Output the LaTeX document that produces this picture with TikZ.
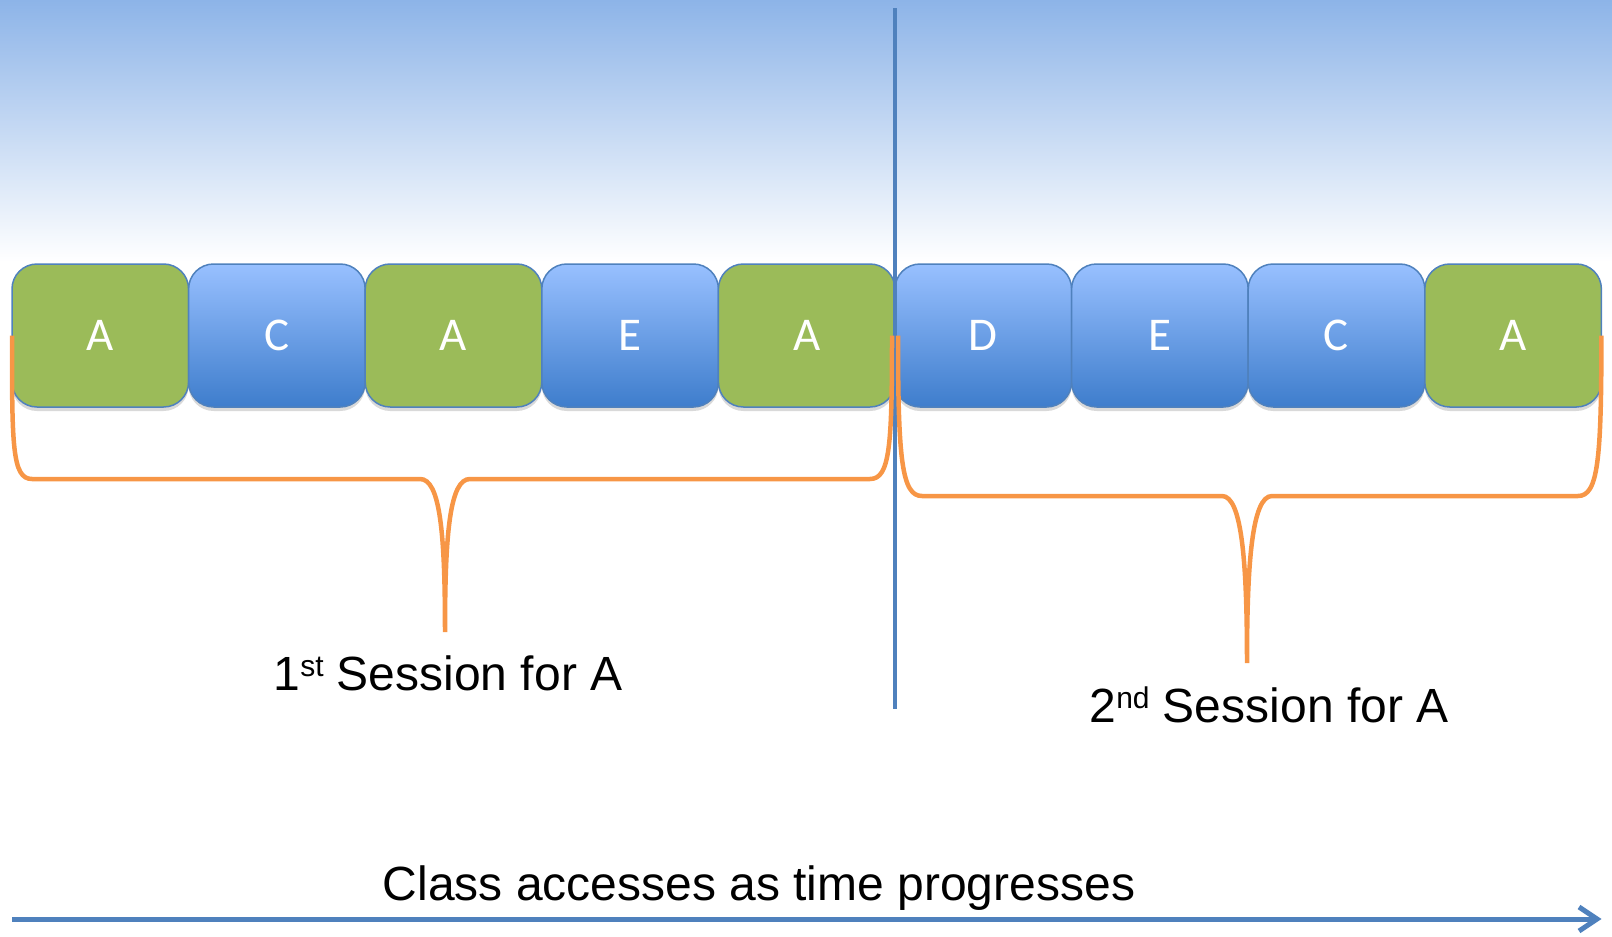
\documentclass[tikz,border=0pt]{standalone}
\usepackage{fontspec}
\setmainfont{Liberation Sans}
\newfontfamily\boxfont{Carlito}
\usetikzlibrary{positioning,shadows}

\definecolor{bgtop}{RGB}{141,180,232}
\definecolor{linblue}{RGB}{79,129,189}
\definecolor{accgreen}{RGB}{155,187,89}
\definecolor{acctop}{RGB}{152,192,255}
\definecolor{accbot}{RGB}{62,125,204}
\definecolor{braceorange}{RGB}{247,150,70}

\begin{document}
\begin{tikzpicture}
[
x = 1pt, y = -1pt,
access/.style = {draw = linblue, line width = 1.5pt, rounded corners = 25pt,
  minimum width = 176.6pt, minimum height = 143pt, inner sep = 0pt, outer sep = 0pt,
  text = white, font = \boxfont\fontsize{47}{47}\selectfont,
  drop shadow = {opacity = 0.3, shadow xshift = 0pt, shadow yshift = -4pt}},
hit/.style = {access, fill = accgreen},
miss/.style = {access, top color = acctop, bottom color = accbot},
brace/.style = {draw = braceorange, line width = 4.5pt},
caption/.style = {font = \fontsize{48}{52}\selectfont, anchor = base},
]

\useasboundingbox (0,0) rectangle (1612,937);
\fill[top color = bgtop, bottom color = white] (0,0) rectangle (1612,262);

% class accesses
\node (b1) at (100.3,335.5) [hit] {A};
\node (b2) [miss, right = 0pt of b1] {C};
\node (b3) [hit, right = 0pt of b2] {A};
\node (b4) [miss, right = 0pt of b3] {E};
\node (b5) [hit, right = 0pt of b4] {A};
\node (b6) [miss, right = 0pt of b5] {D};
\node (b7) [miss, right = 0pt of b6] {E};
\node (b8) [miss, right = 0pt of b7] {C};
\node (b9) [hit, right = 0pt of b8] {A};

% session split
\coordinate (cuttop) at (895,8);
\coordinate (cutbot) at (895,709);
\draw[linblue, line width = 4.5pt] (cuttop) -- (cutbot);

% braces
\coordinate (tip1) at (445,632);
\coordinate (tip2) at (1247,663);
\draw[brace] (b1.west) .. controls +(0,110) and +(-20,0) .. (32,479) -- (420,479)
  .. controls +(20,0) and +(0,-100) .. (tip1)
  .. controls +(0,-100) and +(-20,0) .. (470,479) -- (870,479)
  .. controls +(20,0) and +(0,110) .. ([xshift = -3pt]b5.east);
\draw[brace] ([xshift = 3pt]b6.west) .. controls +(0,125) and +(-20,0) .. (922,496) -- (1222,496)
  .. controls +(20,0) and +(0,-100) .. (tip2)
  .. controls +(0,-100) and +(-20,0) .. (1272,496) -- (1578,496)
  .. controls +(20,0) and +(0,125) .. (b9.east);

\node (s1) [caption] at (448,690) {1\raisebox{14pt}{\fontsize{30}{30}\selectfont st} Session for A};
\node (s2) [caption] at (1269,722) {2\raisebox{14pt}{\fontsize{30}{30}\selectfont nd} Session for A};

% time axis
\node (axis) [caption] at (759,900) {Class accesses as time progresses};
\coordinate (t0) at (12,919);
\coordinate (t1) at (1597,919);
\draw[linblue, line width = 5pt] (t0) -- (t1);
\draw[linblue, line width = 5pt, line join = miter] (1579,907) -- (t1) -- (1579,931);
\end{tikzpicture}
\end{document}
